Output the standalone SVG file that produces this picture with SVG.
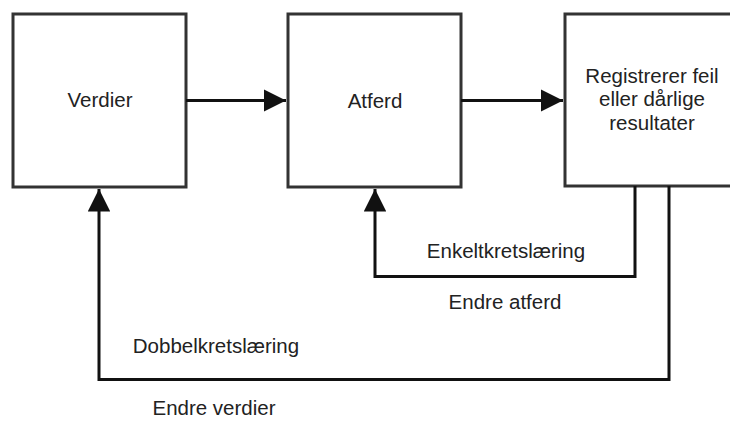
<svg xmlns="http://www.w3.org/2000/svg" width="730" height="421" viewBox="0 0 730 421">
  <defs>
    <style>
      .box { fill: #ffffff; stroke: #333333; stroke-width: 3; }
      .wire { fill: none; stroke: #111111; stroke-width: 3; }
      .label { font-family: "Liberation Sans", Arial, sans-serif; font-size: 20.5px; fill: #222222; text-anchor: middle; }
    </style>
    <marker id="head" viewBox="0 0 10 10" refX="10" refY="5" markerWidth="7.5" markerHeight="7.5" markerUnits="strokeWidth" orient="auto">
      <path d="M0,0 L10,5 L0,10 Z" fill="#111111"/>
    </marker>
  </defs>
  <rect width="730" height="421" fill="#ffffff"/>

  <g id="verdier">
    <rect class="box" x="13" y="14" width="173" height="173"/>
    <text class="label" x="100" y="107">Verdier</text>
  </g>

  <g id="atferd">
    <rect class="box" x="288" y="14" width="173" height="173"/>
    <text class="label" x="375" y="108">Atferd</text>
  </g>

  <g id="registrerer">
    <rect class="box" x="565" y="14" width="173" height="172"/>
    <text class="label" x="652" y="83">Registrerer feil</text>
    <text class="label" x="652" y="106">eller dårlige</text>
    <text class="label" x="652" y="130">resultater</text>
  </g>

  <g id="connectors">
    <path class="wire" d="M186,100.5 H286" marker-end="url(#head)"/>
    <path class="wire" d="M461,100.5 H563" marker-end="url(#head)"/>
    <path class="wire" d="M635,186 V276.5 H375 V189" marker-end="url(#head)"/>
    <path class="wire" d="M669,186 V379.5 H99 V189" marker-end="url(#head)"/>
  </g>

  <g id="loop-labels">
    <text class="label" x="506" y="258">Enkeltkretslæring</text>
    <text class="label" x="505" y="309">Endre atferd</text>
    <text class="label" x="216" y="353">Dobbelkretslæring</text>
    <text class="label" x="214" y="415">Endre verdier</text>
  </g>
</svg>
